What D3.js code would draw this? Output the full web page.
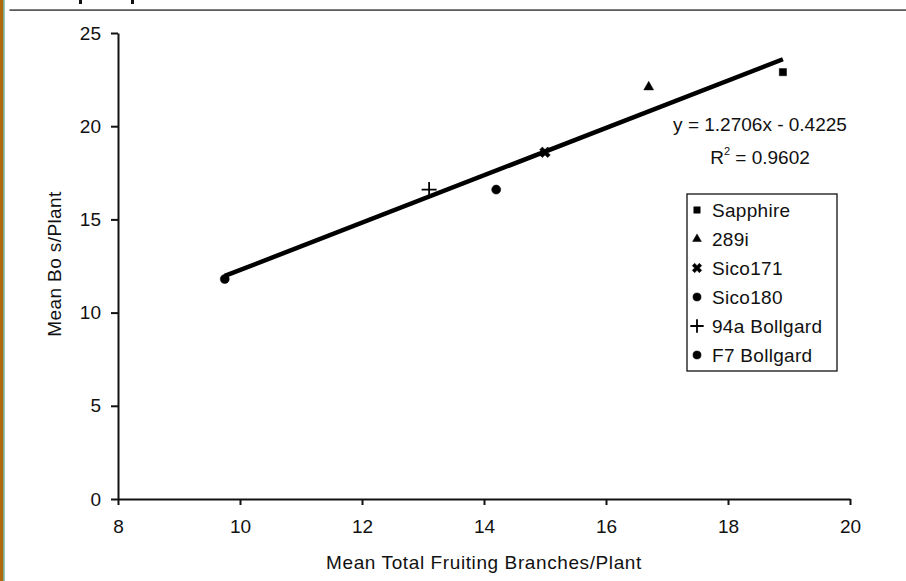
<!DOCTYPE html>
<html>
<head>
<meta charset="utf-8">
<script src="https://cdn.jsdelivr.net/npm/d3@7"></script>
<style>
  body { margin: 0; background: #fff; }
  text { font-family: "Liberation Sans", Arial, sans-serif; fill: #111; }
</style>
</head>
<body>
<div id="scatterChart" width="906" height="581"></div>
<script>
// Datos
var varieties = ["Sapphire", "289i", "Sico171", "Sico180", "94a Bollgard", "F7 Bollgard"];
var branches = [18.9, 16.7, 15.0, 14.2, 13.1, 9.75];
var bolls = [22.9, 22.1, 18.6, 16.6, 16.6, 11.8];
var xTicks = [8, 10, 12, 14, 16, 18, 20];
var yTicks = [0, 5, 10, 15, 20, 25];
var slope = 1.2706, intercept = -0.4225;
var eqLabel = "y =  1.2706x - 0.4225";
var r2Label = "0.9602";

// Vinculamos al elemento del HTML
var container = d3.select("#scatterChart")
var width = +container.attr("width");
var height = +container.attr("height");

var svg = container
.append("svg")
.attr("width", width)
.attr("height", height);

// Borde de la diapositiva
svg.append("rect").attr("x", 0).attr("y", 0).attr("width", 3.2).attr("height", height).style("fill", "#b0680c");
svg.append("rect").attr("x", 3.2).attr("y", 0).attr("width", 1.4).attr("height", height).style("fill", "#5f9f82");
svg.append("rect").attr("x", 9.5).attr("y", 9.3).attr("width", width).attr("height", 1.6).style("fill", "#4a4a4a");
svg.append("rect").attr("x", 79).attr("y", 0).attr("width", 3).attr("height", 4).style("fill", "#111");
svg.append("rect").attr("x", 131).attr("y", 0).attr("width", 3).attr("height", 4).style("fill", "#111");

// Escalas
var x = d3.scaleLinear()
.domain([8, 20])
.range([118, 850]);
var y = d3.scaleLinear()
.domain([0, 25])
.range([499, 33]);

// Ejes
var xAxis = svg.append("g")
.attr("transform", "translate(0," + y(0) + ")")
.call(d3.axisBottom(x).tickValues(xTicks).tickSize(6).tickSizeOuter(0).tickPadding(14.5));
var yAxis = svg.append("g")
.attr("transform", "translate(" + x(8) + ",0)")
.call(d3.axisLeft(y).tickValues(yTicks).tickSize(7).tickSizeOuter(0).tickPadding(10));

svg.selectAll(".domain, .tick line").style("stroke", "#111").style("stroke-width", 2);
svg.selectAll(".tick text").style("font-size", "19px").style("fill", "#111")
.style("font-family", "'Liberation Sans', Arial, sans-serif");

// Titulos de los ejes
svg.append("text")
.attr("x", (x(8) + x(20)) / 2)
.attr("y", 569)
.style("text-anchor", "middle")
.style("font-size", "19px")
.style("letter-spacing", "0.6px")
.text("Mean Total Fruiting Branches/Plant");

svg.append("text")
.attr("transform", "translate(61,264) rotate(-90)")
.style("text-anchor", "middle")
.style("font-size", "19px")
.style("letter-spacing", "0.4px")
.text("Mean Bo  s/Plant");

// Linea de tendencia
var ext = d3.extent(branches);
var trend = [ext[0], ext[1]];
svg.append("path")
.datum(trend)
.attr("d", d3.line()
  .x(function(d) { return x(d); })
  .y(function(d) { return y(slope * d + intercept); }))
.style("stroke", "#000")
.style("stroke-width", 4.5)
.style("fill", "none");

// Marcadores
var shapes = [
  {type: d3.symbolSquare, size: 52, fill: true, rot: 0},
  {type: d3.symbolTriangle, size: 42, fill: true, rot: 0},
  {type: d3.symbolCross, size: 70, fill: true, rot: 45},
  {type: d3.symbolCircle, size: 64, fill: true, rot: 0},
  {type: d3.symbolPlus, size: 75, fill: false, rot: 0},
  {type: d3.symbolCircle, size: 64, fill: true, rot: 0}
];

function drawMarker(sel, i, scale) {
  var s = shapes[i];
  sel.append("path")
  .attr("d", d3.symbol().type(s.type).size(s.size * scale)())
  .attr("transform", function() {
    var t = d3.select(this.parentNode).attr("data-t");
    return t + " rotate(" + s.rot + ")";
  })
  .style("fill", s.fill ? "#000" : "none")
  .style("stroke", "#000")
  .style("stroke-width", s.fill ? 0.5 : 1.8);
}

var points = svg.selectAll("mypoints")
.data(varieties)
.enter()
.append("g")
.attr("data-t", function(d, i) { return "translate(" + x(branches[i]) + "," + y(bolls[i]) + ")"; })
.each(function(d, i) { drawMarker(d3.select(this), i, 1); });

// Ecuacion y R2
svg.append("text")
.attr("x", 760)
.attr("y", 131)
.style("text-anchor", "middle")
.style("font-size", "19px")
.text(eqLabel);

var r2 = svg.append("text")
.attr("x", 760)
.attr("y", 164)
.style("text-anchor", "middle")
.style("font-size", "19px");
r2.append("tspan").text("R");
r2.append("tspan").attr("dy", -9).style("font-size", "11px").text("2");
r2.append("tspan").attr("dy", 9).text(" = " + r2Label);

// Leyenda
var rowH = 29;
var pad = 16;
var legend = svg.append("g").attr("transform", "translate(687,194)");
legend.append("rect")
.attr("x", 0)
.attr("y", 0)
.attr("width", 150)
.attr("height", pad * 2 + rowH * (varieties.length - 1))
.style("fill", "#fff")
.style("stroke", "#111")
.style("stroke-width", 1.3);

var items = legend.selectAll("mylabels")
.data(varieties)
.enter()
.append("g")
.attr("data-t", function(d, i) { return "translate(10," + (pad + i * rowH) + ")"; })
.each(function(d, i) { drawMarker(d3.select(this), i, 0.8); });

items.append("text")
.attr("x", 25)
.attr("y", function(d, i) { return pad + i * rowH + 7; })
.style("font-size", "19px")
.style("letter-spacing", "0.3px")
.text(function(d) { return d; });
</script>
</body>
</html>
